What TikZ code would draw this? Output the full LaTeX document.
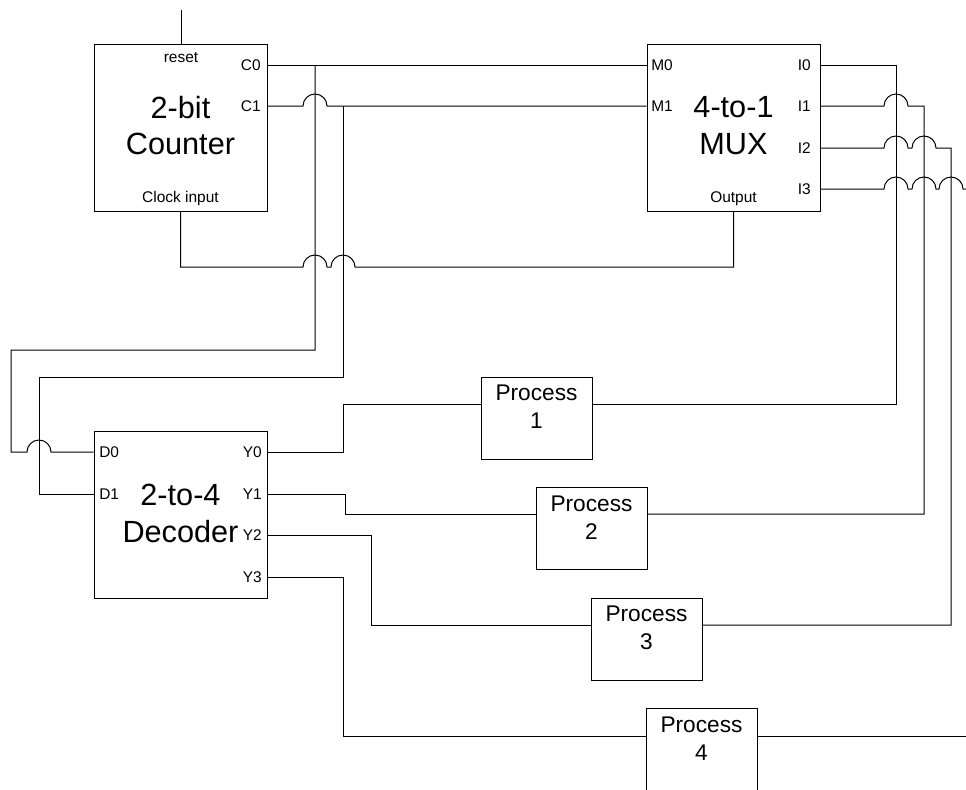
\documentclass[tikz,border=0pt]{standalone}
\usepackage{fontspec}
\setmainfont{Liberation Sans}
\usetikzlibrary{positioning,calc}

\begin{document}
\begin{tikzpicture}[
  x=0.75pt,y=0.75pt,
  blockbox/.style={draw,minimum width=129.75pt,minimum height=125pt,inner sep=0pt},
  blocktxt/.style={align=center,inner sep=0pt,font=\fontsize{23}{27.5}\selectfont},
  procbox/.style={draw,minimum width=83.25pt,minimum height=61.5pt,inner sep=0pt},
  proctxt/.style={align=center,inner sep=0pt,font=\fontsize{17}{21}\selectfont},
  port/.style={font=\fontsize{11.6}{13}\selectfont,inner sep=0pt},
  wire/.style={line width=0.75pt,line join=miter}
]
\useasboundingbox (0,0) rectangle (966,-789);

% Blocks
\node[blockbox] (cnt) at (180.5,-127.5) {};
\node[blockbox] (mux) at (733.5,-127.5) {};
\node[blockbox] (dec) at (180.5,-515) {};
\node[blocktxt] (cntt) at (180.5,-125.5) {2-bit\\Counter};
\node[blocktxt] (muxt) at (733.5,-125.5) {4-to-1\\MUX};
\node[blocktxt] (dect) at (180.5,-513.5) {2-to-4\\Decoder};

% Processes: y = 404, 514, 625, 736 on the wires
\node[procbox] (pa) at (536.5,-418) {};
\node[procbox] (pb) at (591.5,-528.5) {};
\node[procbox] (pc) at (646.5,-639) {};
\node[procbox] (pd) at (701.5,-749.5) {};
\node[proctxt] (pat) at (536.5,-407) {Process\\1};
\node[proctxt] (pbt) at (591.5,-517.5) {Process\\2};
\node[proctxt] (pct) at (646.5,-628) {Process\\3};
\node[proctxt] (pdt) at (701.5,-739) {Process\\4};

% Port labels
\node[port,anchor=base] (rstl) at (181,-62) {reset};
\node[port,anchor=base] (clkl) at (180.5,-202) {Clock input};
\node[port,anchor=base] (outl) at (733.5,-202) {Output};
\node[port,anchor=east] (c0l) at (261,-65) {C0};
\node[port,anchor=east] (c1l) at (261,-106) {C1};
\node[port,anchor=west] (m0l) at (651,-65) {M0};
\node[port,anchor=west] (m1l) at (651,-106) {M1};
\node[port,anchor=east] (i0l) at (811,-65) {I0};
\node[port,anchor=east] (i1l) at (811,-106) {I1};
\node[port,anchor=east] (i2l) at (811,-148) {I2};
\node[port,anchor=east] (i3l) at (811,-189) {I3};
\node[port,anchor=west] (d0l) at (99,-452) {D0};
\node[port,anchor=west] (d1l) at (99,-494) {D1};
\node[port,anchor=east] (y0l) at (262,-452) {Y0};
\node[port,anchor=east] (y1l) at (262,-494) {Y1};
\node[port,anchor=east] (y2l) at (262,-535) {Y2};
\node[port,anchor=east] (y3l) at (262,-577) {Y3};

% Pins on the block edges
\coordinate (c0) at (cnt.east |- c0l);
\coordinate (c1) at (cnt.east |- c1l);
\coordinate (m0) at (mux.west |- m0l);
\coordinate (m1) at (mux.west |- m1l);
\coordinate (i0) at (mux.east |- i0l);
\coordinate (i1) at (mux.east |- i1l);
\coordinate (i2) at (mux.east |- i2l);
\coordinate (i3) at (mux.east |- i3l);
\coordinate (d0) at (dec.west |- d0l);
\coordinate (d1) at (dec.west |- d1l);
\coordinate (y0) at (dec.east |- y0l);
\coordinate (y1) at (dec.east |- y1l);
\coordinate (y2) at (dec.east |- y2l);
\coordinate (y3) at (dec.east |- y3l);
\coordinate (rsttop) at (181,-10);
\coordinate (rstpin) at (181,-44);
\coordinate (j0) at (315,-65);
\coordinate (j1) at (343,-106);
\coordinate (i3end) at (966,-189);
\coordinate (pdend) at (966,-736);

% Counter <-> MUX
\draw[wire] (rsttop) -- (rstpin);
\draw[wire] (c0) -- (m0);
\draw[wire] (c1) -- (303,-106) arc (180:0:12) -- (m1);
\draw[wire] (cnt.south) -- (180.5,-267) -- (303,-267) arc (180:0:12)
  -- (331,-267) arc (180:0:12) -- (733.5,-267) -- (mux.south);

% Counter to decoder
\draw[wire] (j0) -- (315,-350) -- (11,-350) -- (11,-452) -- (27,-452) arc (180:0:12) -- (d0);
\draw[wire] (j1) -- (343,-377) -- (39,-377) -- (39,-494) -- (d1);

% Decoder to processes
\draw[wire] (y0) -- (343,-452) -- (343,-404) -- (pa.west |- 0,-404);
\draw[wire] (y1) -- (345,-494) -- (345,-514) -- (pb.west |- 0,-514);
\draw[wire] (y2) -- (371,-535) -- (371,-625) -- (pc.west |- 0,-625);
\draw[wire] (y3) -- (343,-577) -- (343,-736) -- (pd.west |- 0,-736);

% Processes to MUX inputs
\draw[wire] (i0) -- (896,-65) -- (896,-404) -- (pa.east |- 0,-404);
\draw[wire] (i1) -- (884,-106) arc (180:0:12) -- (924,-106) -- (924,-514) -- (pb.east |- 0,-514);
\draw[wire] (i2) -- (884,-148) arc (180:0:12) -- (912,-148) arc (180:0:12)
  -- (951,-148) -- (951,-625) -- (pc.east |- 0,-625);
\draw[wire] (i3) -- (884,-189) arc (180:0:12) -- (912,-189) arc (180:0:12)
  -- (939,-189) arc (180:0:12) -- (i3end);
\draw[wire] (pd.east |- 0,-736) -- (pdend);
\end{tikzpicture}
\end{document}
